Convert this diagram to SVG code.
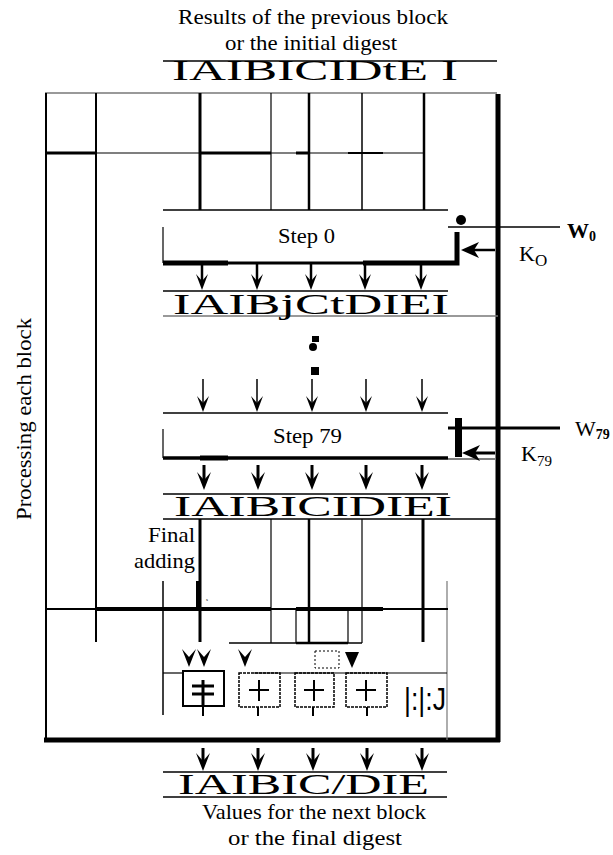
<svg xmlns="http://www.w3.org/2000/svg" width="613" height="855" viewBox="0 0 613 855">
<style>
.t{font-family:"Liberation Serif","Times New Roman",serif;fill:#000;font-size:22px}
.big{font-family:"Liberation Serif","Times New Roman",serif;font-size:30px;fill:#000}
.l{stroke:#000;fill:none}
.g{stroke:#777;fill:none}
</style>
<defs>
<polygon id="ah" points="-6,-16 0,0 6,-16 0,-9" fill="#000"/>
<polygon id="ahk" points="-7,-18 0,0 7,-18 0,-10" fill="#000"/>
</defs>
<rect width="613" height="855" fill="#fff"/>

<g id="header">
<text class="t" x="178" y="24" textLength="270" lengthAdjust="spacingAndGlyphs">Results of the previous block</text>
<text class="t" x="225" y="50" textLength="172" lengthAdjust="spacingAndGlyphs">or the initial digest</text>
<line class="l" x1="163" y1="61" x2="497" y2="61" stroke-width="1.5"/>
<text class="big" x="172" y="80" textLength="286" lengthAdjust="spacingAndGlyphs" font-size="27">IAIBICIDtE I</text>
</g>

<g id="frame">
<line class="g" x1="45" y1="93" x2="497" y2="93" stroke-width="1.5"/>
<line class="l" x1="46" y1="93" x2="46" y2="742" stroke-width="2"/>
<line class="l" x1="498" y1="94" x2="498" y2="742" stroke-width="5"/>
<line class="l" x1="44" y1="740" x2="500" y2="740" stroke-width="5"/>
<text class="t" transform="translate(31 520) rotate(-90)" textLength="202" lengthAdjust="spacingAndGlyphs">Processing each block</text>
</g>

<g id="connectors">
<line class="l" x1="96" y1="93" x2="96" y2="642" stroke-width="2"/>
<line class="l" x1="200" y1="93" x2="200" y2="210" stroke-width="3"/>
<line class="l" x1="271" y1="93" x2="271" y2="210" stroke-width="1.2"/>
<line class="l" x1="309" y1="93" x2="309" y2="210" stroke-width="2.5"/>
<line class="l" x1="362" y1="93" x2="362" y2="210" stroke-width="1.5"/>
<line class="l" x1="424" y1="93" x2="424" y2="210" stroke-width="2.5"/>
<line class="l" x1="46" y1="153" x2="424" y2="153" stroke-width="1.2"/>
<line class="l" x1="46" y1="153" x2="96" y2="153" stroke-width="3"/>
<line class="l" x1="200" y1="153" x2="271" y2="153" stroke-width="3"/>
<line class="l" x1="296" y1="153" x2="310" y2="153" stroke-width="3"/>
<line class="l" x1="348" y1="153" x2="383" y2="153" stroke-width="2"/>

<line class="l" x1="163" y1="210" x2="448" y2="210" stroke-width="1.5"/>
<line class="l" x1="163" y1="227" x2="163" y2="263" stroke-width="1.2"/>
<line class="l" x1="163" y1="263" x2="448" y2="263" stroke-width="3"/>
<line class="l" x1="163" y1="263" x2="228" y2="263" stroke-width="5"/>
<line class="l" x1="363" y1="263" x2="448" y2="263" stroke-width="5"/>
<polyline class="l" points="448,263 457,263 457,232" stroke-width="5"/>
<circle cx="461" cy="220" r="5" fill="#000"/>
<line class="l" x1="448" y1="227" x2="560" y2="227" stroke-width="1.5"/>
<line class="l" x1="495" y1="250" x2="470" y2="250" stroke-width="2.5"/>
<polygon points="461,250 479,242 474,250 479,258" fill="#000"/>

<g stroke="#000" stroke-width="2.5">
<line x1="202" y1="264" x2="202" y2="285"/><line x1="257" y1="264" x2="257" y2="285"/><line x1="311" y1="264" x2="311" y2="285"/><line x1="365" y1="264" x2="365" y2="285"/><line x1="421" y1="264" x2="421" y2="285"/>
</g>
<use href="#ah" x="202" y="290"/><use href="#ah" x="257" y="290"/><use href="#ah" x="311" y="290"/><use href="#ah" x="365" y="290"/><use href="#ah" x="421" y="290"/>
<line class="l" x1="163" y1="291" x2="448" y2="291" stroke-width="1.5"/>
<line class="g" x1="163" y1="316" x2="498" y2="316" stroke-width="1.5"/>

<rect x="312" y="336" width="7" height="6" fill="#000"/>
<circle cx="313" cy="347" r="4" fill="#000"/>
<rect x="311" y="367" width="8" height="8" fill="#000"/>

<g stroke="#000" stroke-width="1.5">
<line x1="203" y1="379" x2="203" y2="408"/><line x1="257" y1="379" x2="257" y2="408"/><line x1="312" y1="379" x2="312" y2="408"/><line x1="366" y1="379" x2="366" y2="408"/><line x1="422" y1="379" x2="422" y2="408"/>
</g>
<use href="#ah" x="203" y="412"/><use href="#ah" x="257" y="412"/><use href="#ah" x="312" y="412"/><use href="#ah" x="366" y="412"/><use href="#ah" x="422" y="412"/>
<line class="l" x1="163" y1="413" x2="448" y2="413" stroke-width="1.5"/>

<line class="l" x1="163" y1="429" x2="163" y2="458" stroke-width="1.2"/>
<line class="l" x1="163" y1="458" x2="448" y2="458" stroke-width="3.5"/>
<line class="l" x1="200" y1="458" x2="228" y2="458" stroke-width="5"/>
<line class="l" x1="448" y1="428" x2="560" y2="428" stroke-width="3"/>
<rect x="455" y="418" width="7" height="39" fill="#000"/>
<line class="l" x1="495" y1="453" x2="470" y2="453" stroke-width="3"/>
<polygon points="462,453 480,445 475,453 480,461" fill="#000"/>
<line class="l" x1="448" y1="459" x2="495" y2="459" stroke-width="1.2"/>

<g stroke="#000" stroke-width="3">
<line x1="204" y1="465" x2="204" y2="482"/><line x1="258" y1="465" x2="258" y2="482"/><line x1="312" y1="465" x2="312" y2="482"/><line x1="366" y1="465" x2="366" y2="482"/><line x1="422" y1="465" x2="422" y2="482"/>
</g>
<use href="#ahk" x="204" y="490"/><use href="#ahk" x="258" y="490"/><use href="#ahk" x="312" y="490"/><use href="#ahk" x="366" y="490"/><use href="#ahk" x="422" y="490"/>
<line class="l" x1="163" y1="494" x2="448" y2="494" stroke-width="1.5"/>
<line class="l" x1="163" y1="519" x2="498" y2="519" stroke-width="1.5"/>

<line class="l" x1="200" y1="519" x2="200" y2="642" stroke-width="3"/>
<line class="l" x1="198" y1="581" x2="198" y2="609" stroke-width="4"/>
<line class="l" x1="271" y1="519" x2="271" y2="643" stroke-width="1.2"/>
<line class="l" x1="309" y1="519" x2="309" y2="643" stroke-width="2.5"/>
<line class="l" x1="362" y1="519" x2="362" y2="643" stroke-width="1.2"/>
<line class="l" x1="423" y1="519" x2="423" y2="642" stroke-width="3"/>
<line class="g" x1="447" y1="581" x2="447" y2="740" stroke-width="1.2"/>
<line class="l" x1="163" y1="581" x2="163" y2="715" stroke-width="1.5"/>
<line class="l" x1="46" y1="609" x2="448" y2="609" stroke-width="2"/>
<line class="l" x1="96" y1="609" x2="271" y2="609" stroke-width="4"/>
<line class="l" x1="296" y1="609" x2="383" y2="609" stroke-width="4"/>
<line class="l" x1="229" y1="643" x2="362" y2="643" stroke-width="1.5"/>
<line class="l" x1="296" y1="643" x2="348" y2="643" stroke-width="2.5"/>
<line class="l" x1="296" y1="609" x2="296" y2="643" stroke-width="1.2"/>
<line class="l" x1="348" y1="609" x2="348" y2="643" stroke-width="1.2"/>
<text x="206" y="601" font-family="Liberation Serif,serif" font-size="5">s</text>

<use href="#ahk" x="189" y="667"/><use href="#ahk" x="204" y="667"/><use href="#ahk" x="245" y="667"/>
<polygon points="345,652 359,652 352,668" fill="#000"/>
<rect x="315" y="651" width="24" height="17" fill="none" stroke="#000" stroke-width="1" stroke-dasharray="2 2"/>

<line class="l" x1="163" y1="673" x2="183" y2="673" stroke-width="1.2"/>
<line class="l" x1="254" y1="673" x2="447" y2="673" stroke-width="1.2"/>

<g stroke="#000" stroke-width="2">
<line x1="203" y1="707" x2="203" y2="716"/><line x1="258" y1="707" x2="258" y2="716"/><line x1="313" y1="707" x2="313" y2="716"/><line x1="367" y1="707" x2="367" y2="716"/>
</g>

<g stroke="#000" stroke-width="3">
<line x1="203" y1="748" x2="203" y2="764"/><line x1="258" y1="748" x2="258" y2="764"/><line x1="313" y1="748" x2="313" y2="764"/><line x1="367" y1="748" x2="367" y2="764"/><line x1="422" y1="748" x2="422" y2="764"/>
</g>
<use href="#ahk" x="203" y="771"/><use href="#ahk" x="258" y="771"/><use href="#ahk" x="313" y="771"/><use href="#ahk" x="367" y="771"/><use href="#ahk" x="422" y="771"/>
<line class="l" x1="163" y1="772" x2="447" y2="772" stroke-width="1.5"/>
<line class="l" x1="163" y1="797" x2="447" y2="797" stroke-width="1.5"/>
</g>

<g id="step0">
<text class="t" x="278" y="243" textLength="57" lengthAdjust="spacingAndGlyphs">Step 0</text>
</g>
<g id="w0">
<text class="t" x="567" y="238" font-weight="bold">W<tspan font-size="14" dy="3">0</tspan></text>
</g>
<g id="k0">
<text class="t" x="519" y="261">K<tspan font-size="17" dy="5">O</tspan></text>
</g>
<g id="row1">
<text class="big" x="173" y="314" textLength="276" lengthAdjust="spacingAndGlyphs">IAIBjCtDIEI</text>
</g>
<g id="step79">
<text class="t" x="273" y="443" textLength="69" lengthAdjust="spacingAndGlyphs">Step 79</text>
</g>
<g id="w79">
<text class="t" x="575" y="436">W<tspan font-size="14" font-weight="bold" dy="3">79</tspan></text>
</g>
<g id="k79">
<text class="t" x="521" y="461">K<tspan font-size="15" dy="5">79</tspan></text>
</g>
<g id="row2">
<text class="big" x="174" y="516" textLength="278" lengthAdjust="spacingAndGlyphs">IAIBICIDIEI</text>
</g>
<g id="final-adding">
<text class="t" x="148" y="542" textLength="47" lengthAdjust="spacingAndGlyphs">Final</text>
<text class="t" x="134" y="568" textLength="61" lengthAdjust="spacingAndGlyphs">adding</text>
</g>

<g id="adder1">
<rect x="183" y="671" width="41" height="35" fill="none" stroke="#000" stroke-width="2"/>
<line class="l" x1="203" y1="680" x2="203" y2="706" stroke-width="3"/>
<line class="l" x1="192" y1="686" x2="214" y2="686" stroke-width="3"/>
<line class="l" x1="192" y1="694" x2="214" y2="694" stroke-width="3"/>
</g>
<g id="adder2">
<rect x="239" y="673" width="41" height="34" fill="none" stroke="#000" stroke-width="1.5" stroke-dasharray="3 1"/>
<line class="l" x1="259" y1="680" x2="259" y2="701" stroke-width="2"/>
<line class="l" x1="249" y1="690" x2="269" y2="690" stroke-width="2"/>
</g>
<g id="adder3">
<rect x="295" y="673" width="39" height="34" fill="none" stroke="#000" stroke-width="1.5" stroke-dasharray="3 1"/>
<line class="l" x1="314" y1="680" x2="314" y2="701" stroke-width="2"/>
<line class="l" x1="304" y1="690" x2="324" y2="690" stroke-width="2"/>
</g>
<g id="adder4">
<rect x="346" y="673" width="41" height="34" fill="none" stroke="#000" stroke-width="1.5" stroke-dasharray="3 1"/>
<line class="l" x1="366" y1="680" x2="366" y2="701" stroke-width="2"/>
<line class="l" x1="356" y1="690" x2="376" y2="690" stroke-width="2"/>
</g>
<g id="adder5">
<text x="404" y="710" font-family="Liberation Sans,Arial,sans-serif" font-size="32" textLength="42" lengthAdjust="spacingAndGlyphs">|:|:J</text>
</g>

<g id="output">
<text class="big" x="178" y="794" textLength="251" lengthAdjust="spacingAndGlyphs">IAIBIC/DIE</text>
<text class="t" x="202" y="819" textLength="224" lengthAdjust="spacingAndGlyphs">Values for the next block</text>
<text class="t" x="228" y="845" textLength="174" lengthAdjust="spacingAndGlyphs">or the final digest</text>
</g>
</svg>
